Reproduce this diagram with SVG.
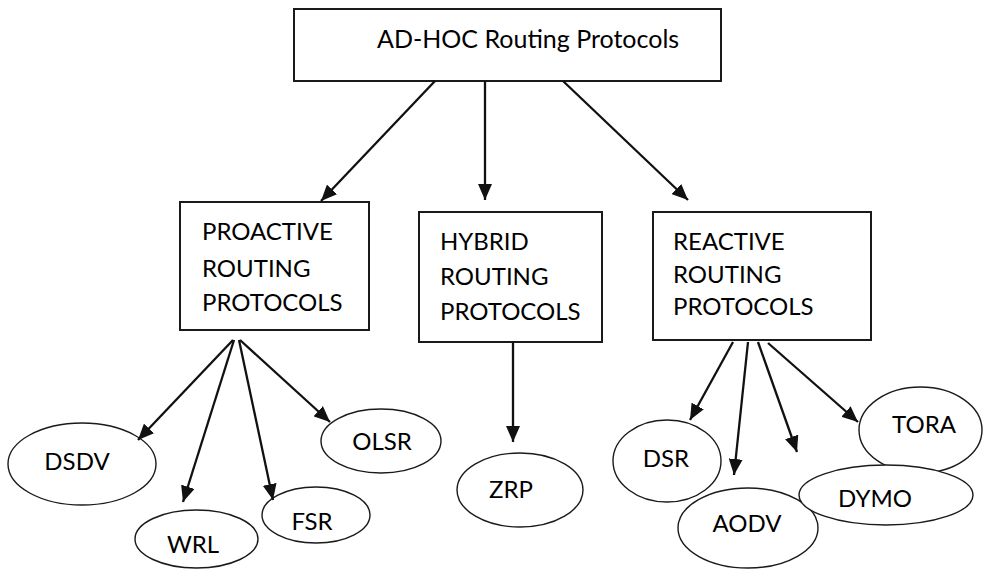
<svg xmlns="http://www.w3.org/2000/svg" width="983" height="569" viewBox="0 0 983 569">
<style>
.box{fill:#fff;stroke:#1a1a1a;stroke-width:2}
.ell{fill:#fff;stroke:#1a1a1a;stroke-width:1.4}
.t{font-family:Lato,"Liberation Sans",sans-serif;font-size:24px;fill:#000}
.big{font-size:25px}
.c{text-anchor:middle}
.arr{stroke:#111;stroke-width:2.3;fill:none;marker-end:url(#ah)}
</style>
<defs>
<marker id="ah" viewBox="0 0 16 14" refX="16" refY="7" markerWidth="16" markerHeight="14" orient="auto" markerUnits="userSpaceOnUse"><path d="M0,0 L16,7 L0,14 z" fill="#111"/></marker>
</defs>
<rect width="983" height="569" fill="#fff"/>
<g id="root">
<rect class="box" x="294" y="9" width="427" height="72"/>
<text class="t big" x="377" y="48">AD-HOC Routing Protocols</text>
</g>
<g id="proactive">
<rect class="box" x="180" y="202" width="189" height="128"/>
<text class="t" x="202" y="240">PROACTIVE</text>
<text class="t" x="202" y="277">ROUTING</text>
<text class="t" x="202" y="311">PROTOCOLS</text>
</g>
<g id="hybrid">
<rect class="box" x="419" y="212" width="183" height="130"/>
<text class="t" x="440" y="250">HYBRID</text>
<text class="t" x="440" y="285">ROUTING</text>
<text class="t" x="440" y="320">PROTOCOLS</text>
</g>
<g id="reactive">
<rect class="box" x="653" y="212" width="218" height="128"/>
<text class="t" x="673" y="250">REACTIVE</text>
<text class="t" x="673" y="283">ROUTING</text>
<text class="t" x="673" y="315">PROTOCOLS</text>
</g>
<g id="dsdv"><ellipse class="ell" cx="82" cy="464" rx="74" ry="41"/><text class="t c" x="77" y="470">DSDV</text></g>
<g id="wrl"><ellipse class="ell" cx="196.5" cy="539" rx="61.5" ry="29"/><text class="t c" x="193" y="553">WRL</text></g>
<g id="fsr"><ellipse class="ell" cx="316" cy="515" rx="54" ry="28"/><text class="t c" x="312" y="530">FSR</text></g>
<g id="olsr"><ellipse class="ell" cx="381" cy="441" rx="60" ry="32"/><text class="t c" x="382" y="450">OLSR</text></g>
<g id="zrp"><ellipse class="ell" cx="520" cy="490" rx="63" ry="37"/><text class="t c" x="511" y="498">ZRP</text></g>
<g id="dsr"><ellipse class="ell" cx="667" cy="461" rx="54" ry="41"/><text class="t c" x="666" y="467">DSR</text></g>
<g id="aodv"><ellipse class="ell" cx="748" cy="528" rx="70" ry="40"/><text class="t c" x="747" y="532">AODV</text></g>
<g id="tora"><ellipse class="ell" cx="920.5" cy="430" rx="61.5" ry="43"/><text class="t c" x="924" y="433">TORA</text></g>
<g id="dymo"><ellipse class="ell" cx="886" cy="495" rx="87" ry="30"/><text class="t c" x="875" y="507">DYMO</text></g>
<g id="connectors">
<line class="arr" x1="435" y1="81" x2="321" y2="201"/>
<line class="arr" x1="485" y1="81" x2="485" y2="200"/>
<line class="arr" x1="563" y1="81" x2="688" y2="200"/>
<line class="arr" x1="233" y1="340" x2="138" y2="440"/>
<line class="arr" x1="234" y1="340" x2="183" y2="502"/>
<line class="arr" x1="239" y1="340" x2="273" y2="500"/>
<line class="arr" x1="240" y1="340" x2="330" y2="422"/>
<line class="arr" x1="513" y1="342" x2="513" y2="442"/>
<line class="arr" x1="733" y1="342" x2="690" y2="420"/>
<line class="arr" x1="748" y1="342" x2="734" y2="475"/>
<line class="arr" x1="758" y1="342" x2="797" y2="452"/>
<line class="arr" x1="768" y1="343" x2="858" y2="422"/>
</g>
</svg>
